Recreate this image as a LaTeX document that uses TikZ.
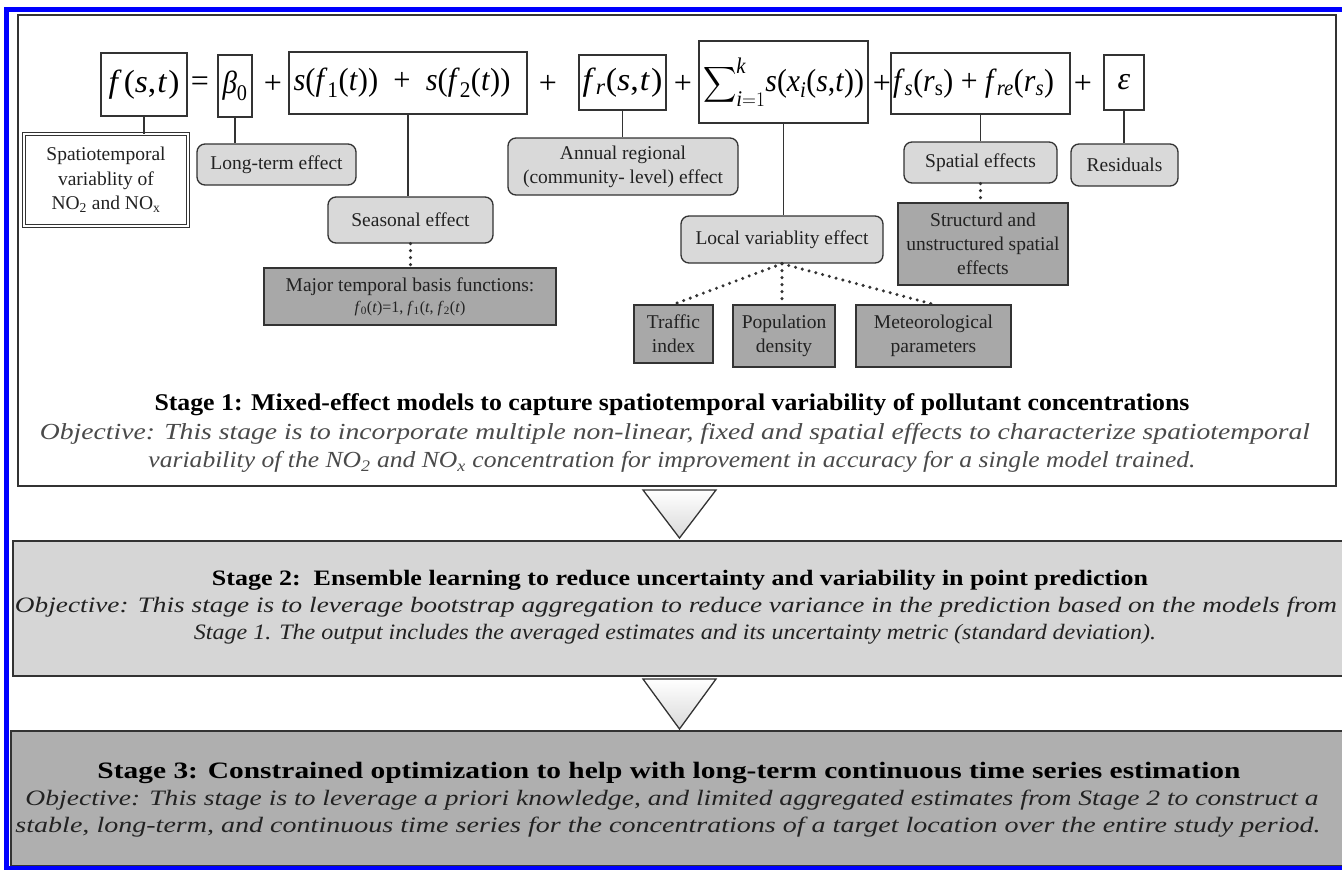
\documentclass[tikz,border=0pt]{standalone}
\usepackage{fontspec}
\setmainfont{Liberation Serif}
\usepackage{amsmath}
\usepackage{graphicx}
\usetikzlibrary{calc}
\definecolor{bord}{HTML}{333333}
\definecolor{lgray}{HTML}{D9D9D9}
\definecolor{dgray}{HTML}{A8A8A8}
\definecolor{sttwo}{HTML}{D6D6D6}
\definecolor{stthree}{HTML}{AFAFAF}
\definecolor{txt}{HTML}{222222}
\definecolor{objgray}{HTML}{4A4A4A}
\definecolor{frameblue}{HTML}{0000FF}
\newcommand\fitw[2]{\resizebox{#1}{\height}{#2}}
\begin{document}
\begin{tikzpicture}[x=1pt,y=-1pt,
 eqbox/.style={draw=bord, line width=1.3pt, fill=white, inner sep=0pt, font=\fontsize{32}{36}\selectfont, text=black},
 effbox/.style={draw=bord, line width=1.3pt, fill=lgray, rounded corners=8pt, inner sep=2pt, align=center, font=\fontsize{19.5}{24}\selectfont, text=txt},
 detbox/.style={draw=bord, line width=1.3pt, fill=dgray, inner sep=2pt, align=center, font=\fontsize{19.5}{24}\selectfont, text=txt},
 dblbox/.style={draw=bord, double, double distance=2.5pt, line width=1pt, fill=white, inner sep=2pt, align=center, font=\fontsize{19.5}{24.5}\selectfont, text=txt},
 link/.style={draw=bord, line width=1.3pt},
 dotlink/.style={draw=bord, line width=3.4pt, line cap=round, dash pattern=on 0pt off 7pt},
 op/.style={font=\fontsize{32}{36}\selectfont, inner sep=0pt},
 stagebox/.style={draw=bord, line width=2pt, inner sep=0pt},
 tri/.style={draw=bord, line width=1.3pt, top color=white, bottom color=gray!30},
 sttitle/.style={inner sep=0pt, text=black},
 stline/.style={inner sep=0pt},
]
\useasboundingbox (0,0) rectangle (1342,870);
\fill[white] (0,0) rectangle (1342,870);

% stage boxes
\node[stagebox, fill=white, minimum width=1318pt, minimum height=471pt] (st1) at (677,250.5) {};
\node[stagebox, fill=sttwo, minimum width=1332pt, minimum height=135pt] (st2) at (679,608.5) {};
\node[stagebox, fill=stthree, minimum width=1334pt, minimum height=135pt] (st3) at (678,798.5) {};

% blue frame
\draw[frameblue, line width=5pt] (6.5,870) -- (6.5,9.5) -- (1342,9.5);
\draw[frameblue, line width=4pt] (4,868) -- (1342,868);

% triangles
\draw[tri] (643,490) -- (716,490) -- (679.5,538) -- cycle;
\draw[tri] (643,679) -- (716,679) -- (679.5,729) -- cycle;

% equation boxes
\node[eqbox, minimum width=86pt, minimum height=63pt] (fst) at (144,84.5) {\fitw{71pt}{\textit{f}\kern2pt(\textit{s},\kern1pt\textit{t}\kern1pt)}};
\node[op] (op1) at (200,84) {=};
\node[eqbox, minimum width=34pt, minimum height=62pt] (b0) at (235,86) {\fitw{25pt}{\textit{β}\textsubscript{0}}};
\node[op] (op2) at (273,84) {+};
\node[eqbox, minimum width=238pt, minimum height=62pt] (sf) at (408,83) {\hspace*{-12pt}\fitw{217pt}{\textit{s}(\textit{f}\textsubscript{1}(\textit{t}))\ \ +\ \ \textit{s}(\textit{f}\textsubscript{2}(\textit{t}))}};
\node[op] (op3) at (548,84) {+};
\node[eqbox, minimum width=87pt, minimum height=55pt] (fr) at (622.5,82.5) {\fitw{80pt}{\textit{f}\textsubscript{\textit{r}}(\textit{s},\kern1pt\textit{t}\kern1pt)}};
\node[op] (op4) at (683,84) {+};
\node[eqbox, minimum width=169pt, minimum height=82pt] (sum) at (783.5,82) {\fitw{161pt}{$\displaystyle\sum\nolimits_{\textit{i}=1}^{\textit{k}}$\textit{s}(\textit{x}\textsubscript{\textit{i}}(\textit{s},\textit{t}))}};
\node[op] (op5) at (882,84) {+};
\node[eqbox, minimum width=179pt, minimum height=61pt] (fs) at (980.5,83.5) {\hspace*{-14pt}\fitw{161pt}{\textit{f}\textsubscript{\textit{s}}(\textit{r}\textsubscript{s}) + \textit{f}\textsubscript{\textit{re}}(\textit{r}\textsubscript{\textit{s}})}};
\node[op] (op6) at (1083,84) {+};
\node[eqbox, minimum width=40pt, minimum height=55pt] (eps) at (1124,82.5) {\textit{ε}};

% effect boxes
\node[dblbox, minimum width=164pt, minimum height=92pt] (sp) at (106,180) {Spatiotemporal\\variablity of\\NO\textsubscript{2} and NO\textsubscript{x}};
\node[effbox, minimum width=159pt, minimum height=41pt] (lt) at (276.5,164.5) {Long-term effect};
\node[effbox, minimum width=165pt, minimum height=46pt] (se) at (410.5,220) {Seasonal effect};
\node[detbox, minimum width=292pt, minimum height=57pt] (mj) at (410,296.5) {Major temporal basis functions:\\[-3pt]{\fontsize{16}{18}\selectfont \textit{f}\textsubscript{0}(\textit{t})=1, \textit{f}\textsubscript{1}(\textit{t}, \textit{f}\textsubscript{2}(\textit{t})}};
\node[effbox, minimum width=230pt, minimum height=57pt] (an) at (623,166.5) {Annual regional\\(community- level) effect};
\node[effbox, minimum width=202pt, minimum height=47pt] (lv) at (782,239.5) {Local variablity effect};
\node[effbox, minimum width=153pt, minimum height=41pt] (spe) at (980.5,162.5) {Spatial effects};
\node[effbox, minimum width=107pt, minimum height=42pt] (res) at (1124.5,165) {Residuals};
\node[detbox, minimum width=170pt, minimum height=82pt] (stu) at (983,244) {Structurd and\\unstructured spatial\\effects};
\node[detbox, minimum width=79pt, minimum height=58pt] (tr) at (673.5,334) {Traffic\\index};
\node[detbox, minimum width=102pt, minimum height=62pt] (po) at (784,336) {Population\\density};
\node[detbox, minimum width=155pt, minimum height=62pt] (me) at (933.5,336) {Meteorological\\parameters};

% connectors
\draw[link] (fst.south) -- (fst.south |- sp.north);
\draw[link] (b0.south) -- (b0.south |- lt.north);
\draw[link] (sf.south) -- (sf.south |- se.north);
\draw[link] (fr.south) -- (fr.south |- an.north);
\draw[link] (sum.south) -- (sum.south |- lv.north);
\draw[link] (fs.south) -- (fs.south |- spe.north);
\draw[link] (eps.south) -- (eps.south |- res.north);
\draw[dotlink] (se.south) -- (se.south |- mj.north);
\draw[dotlink] (spe.south) -- (spe.south |- stu.north);
\draw[dotlink] (lv.south) -- (tr.north);
\draw[dotlink] (lv.south) -- (lv.south |- po.north);
\draw[dotlink] (lv.south) -- (me.north);

% stage 1 text
\node[sttitle, font=\fontsize{24}{28}\bfseries] (s1t) at (672,405) {\fitw{1035pt}{Stage 1: Mixed-effect models to capture spatiotemporal variability of pollutant concentrations}};
\node[stline, font=\fontsize{23}{26}\itshape, text=objgray] (s1a) at (675,434) {\fitw{1270pt}{Objective: This stage is to incorporate multiple non-linear, fixed and spatial effects to characterize spatiotemporal}};
\node[stline, font=\fontsize{23}{26}\itshape, text=objgray] (s1b) at (672,462) {\fitw{1047pt}{variability of the NO\textsubscript{2} and NO\textsubscript{x} concentration for improvement in accuracy for a single model trained.}};

% stage 2 text
\node[sttitle, font=\fontsize{22}{25}\bfseries] (s2t) at (680,580) {\fitw{936pt}{Stage 2:\ \ Ensemble learning to reduce uncertainty and variability in point prediction}};
\node[stline, font=\fontsize{22}{25}\itshape, text=txt] (s2a) at (676,607) {\fitw{1322pt}{Objective: This stage is to leverage bootstrap aggregation to reduce variance in the prediction based on the models from}};
\node[stline, font=\fontsize{22}{25}\itshape, text=txt] (s2b) at (675,634) {\fitw{962pt}{Stage 1. The output includes the averaged estimates and its uncertainty metric (standard deviation).}};

% stage 3 text
\node[sttitle, font=\fontsize{23.5}{26}\bfseries] (s3t) at (669,773) {\fitw{1143pt}{Stage 3: Constrained optimization to help with long-term continuous time series estimation}};
\node[stline, font=\fontsize{22}{25}\itshape, text=txt] (s3a) at (672,800) {\fitw{1293pt}{Objective: This stage is to leverage a priori knowledge, and limited aggregated estimates from Stage 2 to construct a}};
\node[stline, font=\fontsize{22}{25}\itshape, text=txt] (s3b) at (668,827) {\fitw{1305pt}{stable, long-term, and continuous time series for the concentrations of a target location over the entire study period.}};
\end{tikzpicture}
\end{document}
